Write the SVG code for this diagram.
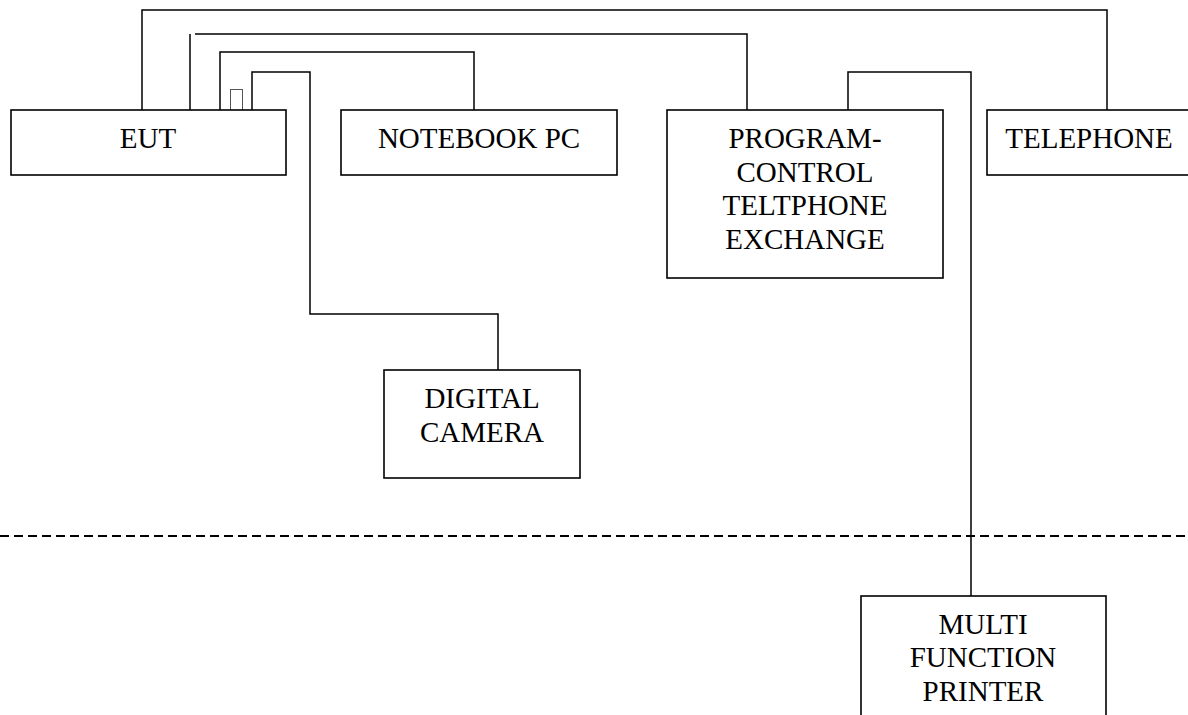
<svg xmlns="http://www.w3.org/2000/svg" width="1188" height="715" viewBox="0 0 1188 715">
<style>
.box{fill:#fff;stroke:#000;stroke-width:1.6}
.ln{fill:none;stroke:#000;stroke-width:1.5}
.t{font-family:"Liberation Serif","Times New Roman",serif;font-size:29px;fill:#000;text-anchor:middle}
</style>
<rect width="1188" height="715" fill="#fff"/>
<g id="connectors">
<polyline class="ln" points="142,110 142,10 1107,10 1107,110"/>
<line class="ln" x1="190" y1="110" x2="190" y2="34"/>
<polyline class="ln" points="195,34 747,34 747,110"/>
<polyline class="ln" points="220,110 220,52 474,52 474,110"/>
<polyline class="ln" points="252,110 252,72 310,72 310,314 498,314 498,370"/>
<polyline class="ln" points="848,110 848,72 971,72 971,596"/>
<rect x="230.5" y="89.5" width="12" height="23" fill="#fff" stroke="#555" stroke-width="1"/>
</g>
<line id="boundary" x1="0" y1="536" x2="1188" y2="536" stroke="#000" stroke-width="2" stroke-dasharray="9,5"/>
<g id="eut">
<rect class="box" x="11" y="110" width="275" height="65"/>
<text class="t" x="148" y="148">EUT</text>
</g>
<g id="notebook">
<rect class="box" x="341" y="110" width="276" height="65"/>
<text class="t" x="479" y="148">NOTEBOOK PC</text>
</g>
<g id="pbx">
<rect class="box" x="667" y="110" width="276" height="168"/>
<text class="t" x="805" y="148">PROGRAM-</text>
<text class="t" x="805" y="182">CONTROL</text>
<text class="t" x="805" y="215">TELTPHONE</text>
<text class="t" x="805" y="249">EXCHANGE</text>
</g>
<g id="telephone">
<rect class="box" x="987" y="110" width="210" height="65"/>
<text class="t" x="1089" y="148">TELEPHONE</text>
</g>
<g id="camera">
<rect class="box" x="384" y="370" width="196" height="108"/>
<text class="t" x="482" y="408">DIGITAL</text>
<text class="t" x="482" y="442">CAMERA</text>
</g>
<g id="printer">
<rect class="box" x="861" y="596" width="245" height="130"/>
<text class="t" x="983" y="634">MULTI</text>
<text class="t" x="983" y="667">FUNCTION</text>
<text class="t" x="983" y="701">PRINTER</text>
</g>
</svg>
